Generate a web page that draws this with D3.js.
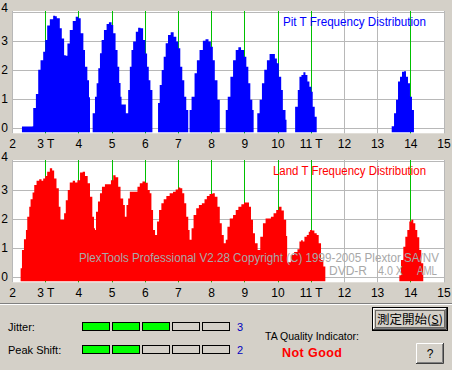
<!DOCTYPE html>
<html>
<head>
<meta charset="utf-8">
<title>PlexTools TA</title>
<style>
  body { margin: 0; background: #d4d0c8; }
  svg { display: block; font-family: "Liberation Sans", Arial, sans-serif; }
</style>
</head>
<body>
<div id="viz"></div>
<script src="https://cdn.jsdelivr.net/npm/d3@7/dist/d3.min.js"></script>
<script>
// tick labels / markers
var xTicks = [2, 3, 4, 5, 6, 7, 8, 9, 10, 11, 12, 13, 14, 15];
var xTickLabels = ["2", "3 T", "4", "5", "6", "7", "8", "9", "10", "11 T", "12", "13", "14", "15"];
var yTicks = [0, 1, 2, 3, 4];
var tMarks = [3, 4, 5, 6, 7, 8, 9, 10, 11, 14];

// Pit T histogram, segments of [T, count]
var pitSegments = [
  [[2.30,0.04],[2.62,0.05],[2.64,0.68],[2.72,1.16],[2.79,2.0],[2.86,2.33],[2.94,2.62],[3.0,3.02],[3.06,3.52],[3.14,3.74],[3.24,3.86],[3.30,3.84],[3.35,3.77],[3.44,3.43],[3.50,3.08],[3.57,2.5],[3.62,2.48],[3.67,2.9],[3.74,3.37],[3.83,3.68],[3.92,3.83],[4.0,3.77],[4.07,3.26],[4.15,2.68],[4.20,2.1],[4.27,1.64],[4.32,1.05],[4.35,1.0]],
  [[4.43,0.5],[4.50,1.07],[4.55,1.53],[4.60,2.05],[4.65,2.57],[4.70,3.02],[4.77,3.37],[4.85,3.58],[4.92,3.64],[5.0,3.54],[5.05,3.26],[5.12,2.68],[5.18,2.1],[5.23,1.54],[5.27,1.07],[5.30,0.8],[5.40,0.8],[5.43,0.5],[5.50,1.3],[5.55,2.1],[5.60,2.68],[5.65,2.97],[5.73,3.31],[5.80,3.45],[5.87,3.43],[5.95,3.02],[6.02,2.56],[6.07,2.1],[6.12,1.64],[6.17,1.3],[6.23,0.85]],
  [[6.40,0.85],[6.45,1.47],[6.51,1.99],[6.57,2.45],[6.63,2.91],[6.70,3.2],[6.78,3.29],[6.87,3.14],[6.95,2.97],[7.01,2.74],[7.07,2.1],[7.13,1.64],[7.19,1.07],[7.25,0.61],[7.31,0.5]],
  [[7.35,0.61],[7.41,1.07],[7.50,1.88],[7.57,2.33],[7.65,2.68],[7.75,3.0],[7.83,3.05],[7.92,2.97],[7.99,2.79],[8.05,2.33],[8.11,1.64],[8.19,0.96],[8.26,0.68]],
  [[8.44,0.61],[8.50,1.07],[8.58,1.76],[8.66,2.33],[8.74,2.68],[8.82,2.77],[8.90,2.68],[8.99,2.45],[9.06,2.1],[9.12,1.53],[9.18,0.96],[9.24,0.61],[9.28,0.27]],
  [[9.39,0.5],[9.46,0.96],[9.53,1.53],[9.60,2.0],[9.68,2.33],[9.76,2.54],[9.84,2.54],[9.92,2.39],[9.98,2.22],[10.04,1.76],[10.11,1.3],[10.16,0.61],[10.24,0.27],[10.27,0.2]],
  [[10.53,0.72],[10.61,1.3],[10.66,1.76],[10.72,1.82],[10.78,1.91],[10.84,1.82],[10.90,1.59],[10.96,1.41],[11.02,1.24],[11.06,0.72],[11.12,0.38],[11.18,0.05]],
  [[13.44,0.05],[13.51,0.5],[13.57,0.96],[13.63,1.59],[13.69,1.76],[13.75,1.93],[13.81,1.95],[13.87,1.76],[13.93,1.53],[13.99,1.07],[14.05,0.61],[14.11,0.05]]
];

// Land T histogram
var landSegments = [
  [[2.26,0.29],[2.30,0.92],[2.36,1.29],[2.42,1.61],[2.46,2.07],[2.52,2.41],[2.56,2.67],[2.62,2.9],[2.67,3.16],[2.74,3.31],[2.82,3.36],[2.89,3.31],[2.94,3.39],[3.0,3.47],[3.06,3.62],[3.14,3.74],[3.21,3.66],[3.27,3.39],[3.34,3.05],[3.41,2.41],[3.46,1.96],[3.52,1.96],[3.57,2.19],[3.62,2.64],[3.68,2.99],[3.74,3.25],[3.83,3.31],[3.90,3.25],[3.97,3.33],[4.05,3.59],[4.13,3.62],[4.20,3.47],[4.28,3.22],[4.35,2.76],[4.42,2.07],[4.47,1.67],[4.50,1.61],[4.53,2.24],[4.59,2.59],[4.65,2.88],[4.71,3.1],[4.80,3.19],[4.90,3.19],[4.98,3.33],[5.05,3.5],[5.12,3.43],[5.20,3.1],[5.27,2.7],[5.35,2.47],[5.40,2.07],[5.45,2.47],[5.50,2.7],[5.55,2.93],[5.63,2.93],[5.70,2.93],[5.78,3.1],[5.85,3.22],[5.93,3.28],[6.01,3.24],[6.09,2.99],[6.15,2.88],[6.20,2.3],[6.25,1.61],[6.31,1.44],[6.37,1.9],[6.43,2.3],[6.50,2.53],[6.57,2.67],[6.65,2.78],[6.75,2.88],[6.85,2.93],[6.93,3.01],[7.01,3.08],[7.07,3.05],[7.13,2.88],[7.19,2.53],[7.25,2.07],[7.31,1.61],[7.35,1.27],[7.41,1.67],[7.47,2.13],[7.55,2.36],[7.63,2.47],[7.72,2.53],[7.80,2.67],[7.87,2.78],[7.95,2.85],[8.04,2.88],[8.11,2.76],[8.19,2.41],[8.26,1.84],[8.32,1.44],[8.38,1.15],[8.44,1.27],[8.49,1.72],[8.56,2.01],[8.66,2.13],[8.74,2.3],[8.82,2.41],[8.91,2.5],[8.99,2.56],[9.08,2.56],[9.14,2.41],[9.20,1.96],[9.26,1.5],[9.32,1.15],[9.40,0.92],[9.48,1.38],[9.56,1.84],[9.64,2.01],[9.72,2.01],[9.80,2.07],[9.88,2.19],[9.96,2.3],[10.04,2.41],[10.12,2.28],[10.19,1.96],[10.26,1.4],[10.29,0.5],[10.40,0.75],[10.50,0.85],[10.60,0.95],[10.66,1.21],[10.71,1.26],[10.76,1.21],[10.81,1.38],[10.88,1.44],[10.94,1.55],[10.98,1.61],[11.04,1.59],[11.11,1.5],[11.18,1.44],[11.24,1.15],[11.31,0.58],[11.38,0.35],[11.44,0.3]],
  [[13.67,0.05],[13.72,0.58],[13.79,1.03],[13.85,1.38],[13.91,1.61],[13.97,1.9],[14.03,1.96],[14.09,1.84],[14.15,1.61],[14.21,1.36],[14.27,0.92],[14.33,0.46],[14.39,0.05]]
];

var jitterScore = 3, peakShiftScore = 2, maxScore = 5;

var W = 452, H = 370;
var svg = d3.select('#viz').append('svg').attr('width', W).attr('height', H);

var x = d3.scaleLinear().domain([2, 15]).range([12, 443.5]);
var y = d3.scaleLinear().domain([0, 4]).range([116.7, 0.7]);
var plotH = 122.3, barBottom = 121.3;

function drawChart(top, segments, color, title, titleX, titleLen) {
  var g = svg.append('g').attr('transform', 'translate(0,' + top + ')');

  g.append('rect').attr('x', 12).attr('y', 0).attr('width', 432).attr('height', plotH).attr('fill', '#fff');

  // grid
  g.selectAll('.hg').data(yTicks).enter().append('line')
    .attr('x1', 12).attr('x2', 444)
    .attr('y1', function(d) { return Math.round(y(d)) + 0.5; })
    .attr('y2', function(d) { return Math.round(y(d)) + 0.5; })
    .attr('stroke', '#b8b8b8');
  g.selectAll('.vg').data(xTicks).enter().append('line')
    .attr('x1', function(d) { return Math.round(x(d)) + 0.5; })
    .attr('x2', function(d) { return Math.round(x(d)) + 0.5; })
    .attr('y1', 0).attr('y2', plotH)
    .attr('stroke', '#b8b8b8');

  // T markers
  g.selectAll('.tm').data(tMarks).enter().append('line')
    .attr('x1', function(d) { return Math.round(x(d)) + 0.5; })
    .attr('x2', function(d) { return Math.round(x(d)) + 0.5; })
    .attr('y1', 0).attr('y2', plotH)
    .attr('stroke', '#00c000');

  var area = d3.area()
    .x(function(d) { return x(d[0]); })
    .y0(barBottom)
    .y1(function(d) { return y(d[1]); })
    .curve(d3.curveStepAfter);

  g.selectAll('.seg').data(segments).enter().append('path')
    .attr('d', area)
    .attr('fill', color);

  g.append('text').attr('x', titleX).attr('y', 15)
    .attr('fill', color).attr('font-size', 12)
    .attr('textLength', titleLen).attr('lengthAdjust', 'spacingAndGlyphs')
    .text(title);

  // axes
  var xa = g.append('g').attr('transform', 'translate(0,' + plotH + ')')
    .call(d3.axisBottom(x).tickValues(xTicks).tickSize(0).tickPadding(6)
      .tickFormat(function(d, i) { return xTickLabels[i]; }));
  var ya = g.append('g').attr('transform', 'translate(12,0)')
    .call(d3.axisLeft(y).tickValues(yTicks).tickSize(0).tickPadding(4)
      .tickFormat(d3.format('d')));
  [xa, ya].forEach(function(a) {
    a.select('.domain').remove();
    a.selectAll('text').attr('font-size', 12).attr('fill', '#000')
      .attr('font-family', '"Liberation Sans", Arial, sans-serif');
  });
  ya.selectAll('.tick').filter(function(d) { return d === 4; })
    .select('text').attr('dy', '0.02em');
  return g;
}

drawChart(11, pitSegments, '#0000ff', 'Pit T Frequency Distribution', 283, 143);
var land = drawChart(160, landSegments, '#ff0000', 'Land T Frequency Distribution', 273, 153);

// watermark
var wm = land.append('g').attr('fill', '#a8a8a8').attr('font-size', 12);
wm.append('text').attr('x', 79).attr('y', 101.5).attr('textLength', 360).attr('lengthAdjust', 'spacingAndGlyphs')
  .text('PlexTools Professional V2.28 Copyright (C) 1999-2005 Plextor SA/NV');
wm.append('text').attr('x', 329).attr('y', 114.5).attr('textLength', 38).attr('lengthAdjust', 'spacingAndGlyphs').text('DVD-R');
wm.append('text').attr('x', 378).attr('y', 114.5).attr('textLength', 25).attr('lengthAdjust', 'spacingAndGlyphs').text('4.0 X');
wm.append('text').attr('x', 417).attr('y', 114.5).attr('textLength', 20).attr('lengthAdjust', 'spacingAndGlyphs').text('AML');

// separator
svg.append('line').attr('x1', 0).attr('x2', W).attr('y1', 303.5).attr('y2', 303.5).attr('stroke', '#808080');
svg.append('line').attr('x1', 0).attr('x2', W).attr('y1', 304.5).attr('y2', 304.5).attr('stroke', '#fff');

// indicator rows
var rows = [
  { label: 'Jitter:', score: jitterScore, y: 322 },
  { label: 'Peak Shift:', score: peakShiftScore, y: 345 }
];
rows.forEach(function(r) {
  svg.append('text').attr('x', 8).attr('y', r.y + 8.5).attr('font-size', 11).text(r.label);
  svg.selectAll(null).data(d3.range(maxScore)).enter().append('rect')
    .attr('x', function(i) { return 82.5 + i * 30; })
    .attr('y', r.y + 0.5).attr('width', 27).attr('height', 8)
    .attr('fill', function(i) { return i < r.score ? '#00ff00' : '#d4d0c8'; })
    .attr('stroke', '#000');
  svg.append('text').attr('x', 237).attr('y', r.y + 9).attr('font-size', 11).attr('fill', '#0000c0').text(r.score);
});

svg.append('text').attr('x', 265).attr('y', 339.5).attr('font-size', 11)
  .attr('textLength', 94).attr('lengthAdjust', 'spacingAndGlyphs').text('TA Quality Indicator:');
svg.append('text').attr('x', 282).attr('y', 357).attr('font-size', 12.5).attr('font-weight', 'bold')
  .attr('fill', '#ff0000').attr('textLength', 60).attr('lengthAdjust', 'spacing').text('Not Good');

// buttons
function button(x0, y0, w, h, focused) {
  var b = svg.append('g');
  if (focused) {
    b.append('rect').attr('x', x0 + 0.5).attr('y', y0 + 0.5).attr('width', w - 1).attr('height', h - 1)
      .attr('fill', '#d4d0c8').attr('stroke', '#000');
    x0 += 1; y0 += 1; w -= 2; h -= 2;
  }
  b.append('rect').attr('x', x0).attr('y', y0).attr('width', w).attr('height', h).attr('fill', '#d4d0c8');
  b.append('path').attr('d', 'M' + (x0 + 0.5) + ',' + (y0 + h - 1) + 'V' + (y0 + 0.5) + 'H' + (x0 + w - 1))
    .attr('stroke', '#fff').attr('fill', 'none');
  b.append('path').attr('d', 'M' + (x0) + ',' + (y0 + h - 0.5) + 'H' + (x0 + w - 0.5) + 'V' + y0)
    .attr('stroke', '#404040').attr('fill', 'none');
  b.append('path').attr('d', 'M' + (x0 + 1) + ',' + (y0 + h - 1.5) + 'H' + (x0 + w - 1.5) + 'V' + (y0 + 1))
    .attr('stroke', '#808080').attr('fill', 'none');
  return b;
}
button(372, 307, 76, 24, true);
svg.append('rect').attr('x', 375.5).attr('y', 310.5).attr('width', 69).attr('height', 17)
  .attr('fill', 'none').attr('stroke', '#000').attr('stroke-dasharray', '1,1');
var bt = svg.append('text').attr('x', 377).attr('y', 323.5)
  .attr('font-family', '"Noto Sans CJK JP", sans-serif').attr('font-size', 12)
  .attr('textLength', 66).attr('lengthAdjust', 'spacingAndGlyphs');
bt.append('tspan').text('測定開始(');
bt.append('tspan').attr('text-decoration', 'underline').text('S');
bt.append('tspan').text(')');

button(416, 343, 28, 21, false);
svg.append('text').attr('x', 430).attr('y', 357.5).attr('text-anchor', 'middle').attr('font-size', 12).text('?');
</script>
</body>
</html>
